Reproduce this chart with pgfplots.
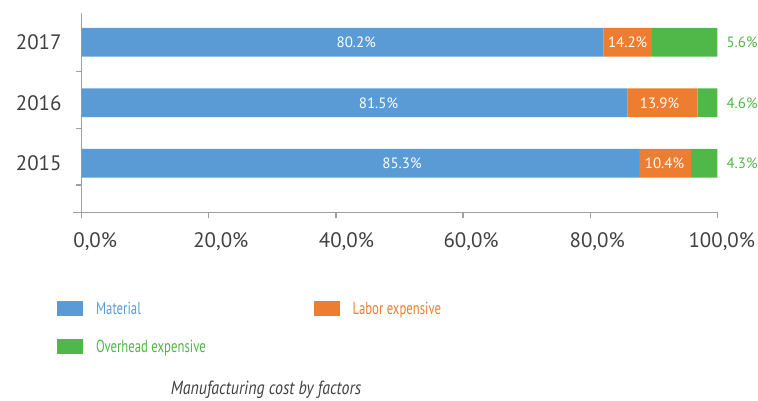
\documentclass[border=0pt]{standalone}
\usepackage{pgfplots}
\pgfplotsset{compat=1.18}
\usepackage{fontspec}
\setmainfont{PT Sans}
\newfontfamily\legfont[FakeStretch=0.73]{PT Sans}
\newfontfamily\titfont[FakeStretch=0.84]{PT Sans}
\definecolor{cblue}{HTML}{5B9BD5}
\definecolor{corange}{HTML}{ED7D31}
\definecolor{cgreen}{HTML}{50B848}
\definecolor{ctext}{HTML}{404040}
\definecolor{caxis}{HTML}{A0A0A0}
\newcommand\fbig{\fontsize{21}{25}\selectfont}
\newcommand\fleg{\legfont\fontsize{17.5}{21}\selectfont}
\newcommand\fsmall{\fontsize{15}{18}\selectfont}
\tikzset{blab/.style={font=\fsmall, inner sep=0pt}}
\begin{document}
\begin{tikzpicture}
\useasboundingbox (-81.7bp,-188.7bp) rectangle (676.3bp,212.3bp);
\begin{axis}[
  at={(0,0)}, anchor=south west,
  scale only axis, width=635.6bp, height=199bp,
  xbar stacked, bar width=28.7bp,
  xmin=0, xmax=100, ymin=-0.81, ymax=2.48,
  axis x line*=bottom, axis y line*=left,
  axis line style={caxis, line width=1.2pt},
  tick align=outside,
  xtick={0,20,40,60,80,100},
  xticklabels={{\kern27bp 0,0\%},{\kern24bp 20,0\%},{\kern21bp 40,0\%},{\kern16bp 60,0\%},{\kern14bp 80,0\%},{\kern9bp 100,0\%}},
  major tick length=6bp,
  tick style={caxis, line width=1.2pt},
  ytick={-0.36,0.58,1.52}, yticklabels={,,},
  extra y ticks={0,1,2}, extra y tick labels={2015,2016,2017},
  extra y tick style={major tick length=0pt},
  xticklabel style={font=\fbig, text=ctext, anchor=north, inner sep=0pt, yshift=-14bp},
  yticklabel style={font=\fbig, text=ctext, anchor=east, inner sep=0pt, xshift=-20bp},
  clip=false,
  legend columns=2,
  legend cell align=left,
  legend style={draw=none, fill=none, inner sep=0pt, at={(-0.0389,-0.4457)}, anchor=north west,
    font=\fleg, row sep=23bp, nodes={inner sep=0pt},
    /tikz/every odd column/.style={column sep=13bp},
    /tikz/every even column/.style={column sep=108bp}},
  legend image code/.code={\fill[#1] (0bp,-7.5bp) rectangle (26bp,7.5bp);},
]
\addplot[fill=cblue, draw=none] coordinates {(87.7,0) (85.9,1) (82.1,2)};
\addlegendentry{\textcolor{cblue}{Material}}
\addplot[fill=corange, draw=none] coordinates {(8.2,0) (11.0,1) (7.6,2)};
\addlegendentry{\textcolor{corange}{Labor expensive}}
\addplot[fill=cgreen, draw=none] coordinates {(4.1,0) (3.1,1) (10.3,2)};
\addlegendentry{\textcolor{cgreen}{Overhead expensive}}
\coordinate (m2) at (axis cs:43.2,2);
\coordinate (m1) at (axis cs:46.7,1);
\coordinate (m0) at (axis cs:50.4,0);
\coordinate (l2) at (axis cs:85.9,2);
\coordinate (l1) at (axis cs:90.9,1);
\coordinate (l0) at (axis cs:91.7,0);
\coordinate (o2) at (axis cs:103.9,2);
\coordinate (o1) at (axis cs:103.9,1);
\coordinate (o0) at (axis cs:103.9,0);
\end{axis}
\draw[caxis, line width=1.2pt] (0,0) -- (-8.7bp,0);
\node[blab, text=white] at (m2) {80.2\%};
\node[blab, text=white] at (m1) {81.5\%};
\node[blab, text=white] at (m0) {85.3\%};
\node[blab, text=white] at (l2) {14.2\%};
\node[blab, text=white] at (l1) {13.9\%};
\node[blab, text=white] at (l0) {10.4\%};
\node[blab, text=cgreen] at (o2) {5.6\%};
\node[blab, text=cgreen] at (o1) {4.6\%};
\node[blab, text=cgreen] at (o0) {4.3\%};
\node[font=\titfont\fontsize{19}{23}\selectfont\itshape, text=ctext] at (184.3bp,-177.5bp) {Manufacturing cost by factors};
\end{tikzpicture}
\end{document}
